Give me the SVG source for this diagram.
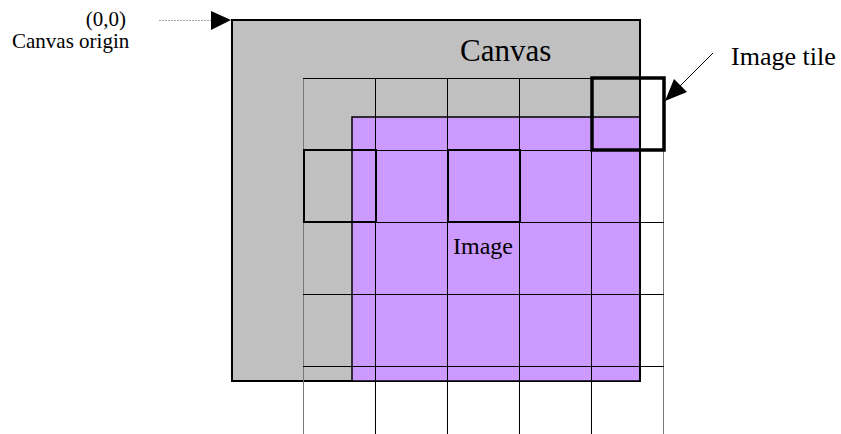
<svg xmlns="http://www.w3.org/2000/svg" width="841" height="434" viewBox="0 0 841 434">
  <style>
    .lbl { font-family: "Liberation Serif", "Times New Roman", serif; fill: #000; }
    .grid { stroke: #000; stroke-width: 1; fill: none; }
    .gridEdge { stroke: #777; stroke-width: 1; fill: none; }
    .tile { fill: none; stroke: #000; stroke-width: 2; }
  </style>
  <rect width="841" height="434" fill="#fff"/>

  <g id="canvas">
    <rect x="232" y="20" width="408" height="361" fill="#C0C0C0" stroke="#000" stroke-width="2"/>
    <text class="lbl" x="460" y="61" font-size="31">Canvas</text>
  </g>

  <g id="image">
    <rect x="352" y="117" width="288" height="264" fill="#CC99FF" stroke="#000" stroke-width="1.5"/>
    <text class="lbl" x="453" y="254" font-size="24">Image</text>
  </g>

  <g id="tile-grid">
    <line class="gridEdge" x1="303.5" y1="78" x2="303.5" y2="434"/>
    <line class="grid" x1="375.5" y1="78" x2="375.5" y2="434"/>
    <line class="grid" x1="447.5" y1="78" x2="447.5" y2="434"/>
    <line class="grid" x1="519.5" y1="78" x2="519.5" y2="434"/>
    <line class="grid" x1="591.5" y1="78" x2="591.5" y2="434"/>
    <line class="gridEdge" x1="663.5" y1="78" x2="663.5" y2="434"/>
    <line class="grid" x1="303" y1="78.5" x2="664" y2="78.5"/>
    <line class="grid" x1="303" y1="150.5" x2="664" y2="150.5"/>
    <line class="grid" x1="303" y1="222.5" x2="664" y2="222.5"/>
    <line class="grid" x1="303" y1="294.5" x2="664" y2="294.5"/>
    <line class="grid" x1="303" y1="366.5" x2="664" y2="366.5"/>
    <line x1="640" y1="20" x2="640" y2="381" stroke="#000" stroke-width="2"/>
    <rect class="tile" x="304" y="150" width="72" height="72"/>
    <rect class="tile" x="448" y="150" width="72" height="72"/>
  </g>

  <g id="image-tile">
    <rect x="592" y="78" width="72" height="72" fill="none" stroke="#000" stroke-width="3.5"/>
    <text class="lbl" x="731" y="65" font-size="26">Image tile</text>
  </g>

  <g id="origin-label">
    <text class="lbl" x="126" y="26" font-size="21" text-anchor="end">(0,0)</text>
    <text class="lbl" x="12" y="48" font-size="21">Canvas origin</text>
  </g>

  <g id="connectors">
    <line x1="159" y1="20.5" x2="212" y2="20.5" stroke="#888" stroke-width="0.8" stroke-dasharray="2,1"/>
    <polygon points="231,20 211,11 211,30" fill="#000"/>
    <line x1="713" y1="53" x2="680" y2="86" stroke="#000" stroke-width="1"/>
    <polygon points="665,101 687,92 674,79" fill="#000"/>
  </g>
</svg>
